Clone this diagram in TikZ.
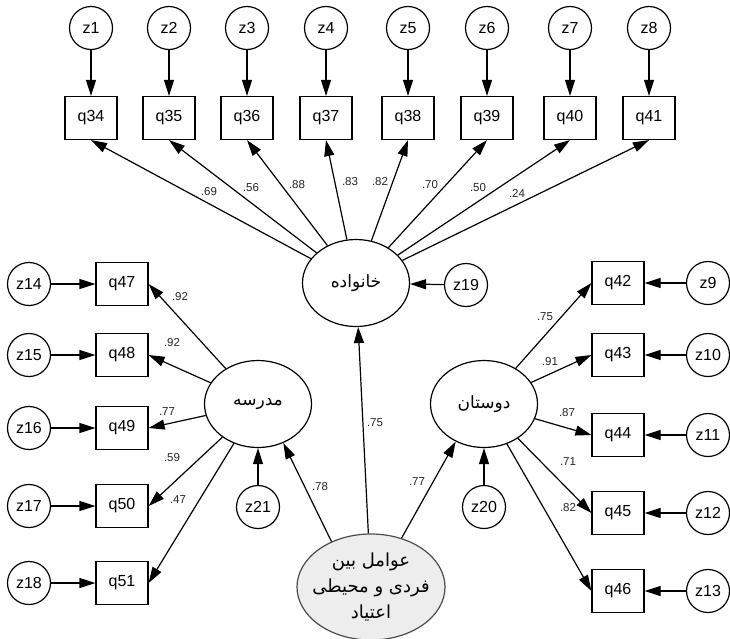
\documentclass[tikz,border=0pt]{standalone}
\usepackage{fontspec}
\setmainfont{Liberation Sans}
\newfontfamily\fa[Script=Arabic]{DejaVu Sans}
\TeXXeTstate=1
\usetikzlibrary{shapes.geometric,arrows.meta}
\begin{document}
\begin{tikzpicture}[x=1pt,y=-1pt,
 obs/.style={draw, line width=1.2pt, minimum width=52pt, minimum height=43pt, inner sep=0pt, font=\fontsize{16}{16}\selectfont},
 err/.style={draw, circle, line width=1.2pt, minimum size=43pt, inner sep=0pt, font=\fontsize{16}{16}\selectfont},
 lat/.style={draw, ellipse, line width=1.2pt, minimum width=107pt, minimum height=87pt, inner sep=0pt, font=\fa\fontsize{17}{17}\selectfont},
 arr/.style={line width=1.2pt, -{Triangle[length=16pt,width=10pt]}},
 coef/.style={font=\fontsize{11.5}{11.5}\selectfont, text=black!85, inner sep=0pt}]
\useasboundingbox[fill=white] (0,0) rectangle (730,638);
% top row
\foreach \i/\q/\x in {1/34/91,2/35/169,3/36/247,4/37/326,5/38/408,6/39/487,7/40/570,8/41/649}{
  \node[err] (z\i) at (\x,28) {z\i};
  \node[obs] (q\q) at (\x,118) {q\q};
  \draw[arr] (z\i) -- (q\q);
}
% left column
\foreach \i/\q/\y in {14/47/284,15/48/355,16/49/428,17/50/506,18/51/583}{
  \node[err] (z\i) at (29,\y) {z\i};
  \node[obs] (q\q) at (122,\y) {q\q};
  \draw[arr] (z\i) -- (q\q);
}
% right column
\foreach \i/\q/\y in {9/42/283,10/43/355,11/44/435,12/45/513,13/46/591}{
  \node[err] (z\i) at (708,\y) {z\i};
  \node[obs] (q\q) at (618,\y) {q\q};
  \draw[arr] (z\i) -- (q\q);
}
% latent variables
\node[lat] (kh) at (356,283) {\beginR خانواده\endR};
\node[lat] (md) at (258,404) {\beginR مدرسه\endR};
\node[lat] (ds) at (484,404) {\beginR دوستان\endR};
\node[draw=black!70, fill=black!7, ellipse, line width=1.2pt, minimum width=148pt, minimum height=106pt, inner sep=-8pt, align=center,
  font=\fa\fontsize{18}{26}\selectfont] (av) at (371,587)
  {\beginR عوامل بین\endR\\\beginR فردی و محیطی\endR\\\beginR اعتیاد\endR};
\node[err] (z19) at (466,285) {z19};
\node[err] (z21) at (258,507) {z21};
\node[err] (z20) at (484,507) {z20};
% loadings
\foreach \q in {34,...,41}{ \draw[arr] (kh) -- (q\q.south); }
\foreach \q in {47,...,51}{ \draw[arr] (md) -- (q\q.east); }
\foreach \q in {42,...,46}{ \draw[arr] (ds) -- (q\q.west); }
\draw[arr] (z19) -- (kh);
\draw[arr] (z21) -- (md);
\draw[arr] (z20) -- (ds);
\draw[arr] (av) -- (kh);
\draw[arr] (av.131) -- (md.-57);
\draw[arr] (av.58) -- (ds.233);
% coefficients
\node[coef] (c34) at (209,192) {.69};
\node[coef] (c35) at (251,188) {.56};
\node[coef] (c36) at (297,185) {.88};
\node[coef] (c37) at (350,182) {.83};
\node[coef] (c38) at (380,182) {.82};
\node[coef] (c39) at (430,185) {.70};
\node[coef] (c40) at (478,188) {.50};
\node[coef] (c41) at (517,193) {.24};
\node[coef] (c47) at (180,297) {.92};
\node[coef] (c48) at (172,343) {.92};
\node[coef] (c49) at (167,412) {.77};
\node[coef] (c50) at (172,458) {.59};
\node[coef] (c51) at (178,500) {.47};
\node[coef] (cmd) at (320,487) {.78};
\node[coef] (c42) at (545,317) {.75};
\node[coef] (c43) at (550,362) {.91};
\node[coef] (c44) at (567,413) {.87};
\node[coef] (c45) at (568,462) {.71};
\node[coef] (c46) at (568,508) {.82};
\node[coef] (cds) at (417,482) {.77};
\node[coef] (ckh) at (375,423) {.75};
\end{tikzpicture}
\end{document}
